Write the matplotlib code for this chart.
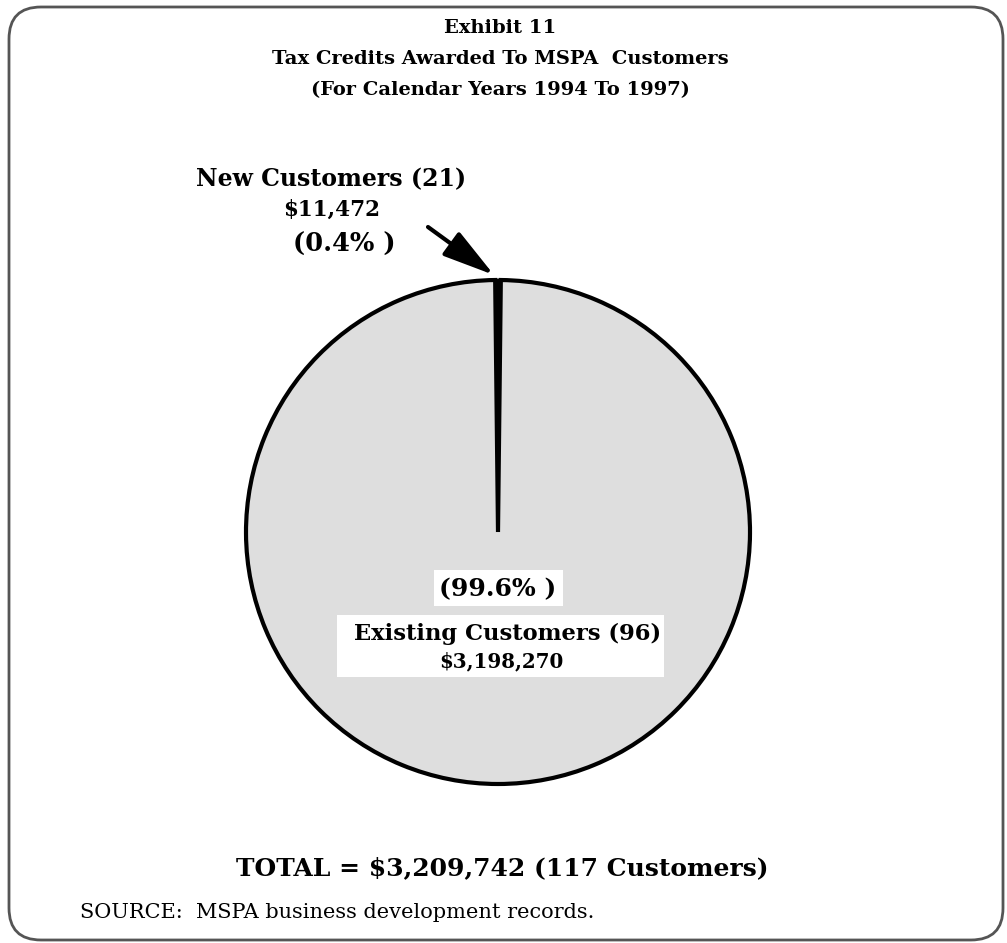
import matplotlib
matplotlib.use("Agg")
import matplotlib.pyplot as plt
from matplotlib.patches import FancyBboxPatch, Rectangle

# ---- data ----
categories = ["New Customers (21)", "Existing Customers (96)"]
amounts = [11472, 3198270]
amount_labels = ["$11,472", "$3,198,270"]
pct_labels = ["(0.4% )", "(99.6% )"]
title_lines = ["Exhibit 11", "Tax Credits Awarded To MSPA  Customers",
               "(For Calendar Years 1994 To 1997)"]
total_label = "TOTAL = $3,209,742 (117 Customers)"
source_label = "SOURCE:  MSPA business development records."

W, H = 1007, 943
fig = plt.figure(figsize=(W / 100, H / 100), dpi=100)
ax = fig.add_axes([0, 0, 1, 1])

def Y(py):
    return H - py

serif = ["DejaVu Serif"]

# pie
total = sum(amounts)
small_angle = amounts[0] / total * 360.0
cx, cy, r = 498, Y(532), 252
wedges, _ = ax.pie(amounts, colors=["black", "#dedede"], startangle=90 - small_angle / 2,
                   counterclock=True, center=(cx, cy), radius=r,
                   wedgeprops=dict(edgecolor="black", linewidth=3),
                   frame=True)
wedges[0].set_linewidth(2)
ax.set_xlim(0, W)
ax.set_ylim(0, H)
ax.set_aspect("equal")
ax.axis("off")

# frame
frame = FancyBboxPatch((9, Y(940)), 994, 933,
                       boxstyle="round,pad=0,rounding_size=32",
                       fc="none", ec="#555555", lw=2, zorder=0.5)
ax.add_patch(frame)

# titles
for i, t in enumerate(title_lines):
    ax.text(500, Y(28 + 31 * i), t, ha="center", va="center", family=serif,
            fontweight="bold", fontsize=14)

# new customers label
ax.text(331, Y(179), categories[0], ha="center", va="center", family=serif,
        fontweight="bold", fontsize=17)
ax.text(332, Y(210), amount_labels[0], ha="center", va="center", family=serif,
        fontweight="bold", fontsize=15.5)
ax.text(344, Y(244), pct_labels[0], ha="center", va="center", family=serif,
        fontweight="bold", fontsize=18.5)
ax.annotate("", xy=(494, Y(275)), xytext=(428, Y(227)),
            arrowprops=dict(arrowstyle="-|>,head_length=0.8,head_width=0.22",
                            color="black", lw=3,
                            mutation_scale=40, shrinkA=0, shrinkB=0))

# existing customers label
ax.add_patch(Rectangle((434, Y(606)), 129, 36, fc="white", ec="none", zorder=3))
ax.text(498, Y(589), pct_labels[1], ha="center", va="center", family=serif,
        fontweight="bold", fontsize=18, zorder=4)
ax.add_patch(Rectangle((337, Y(677)), 327, 62, fc="white", ec="none", zorder=3))
ax.text(508, Y(634), categories[1], ha="center", va="center", family=serif,
        fontweight="bold", fontsize=16.3, zorder=4)
ax.text(501, Y(661), amount_labels[1], ha="center", va="center", family=serif,
        fontweight="bold", fontsize=14.3, zorder=4)

# total and source
ax.text(502, Y(868), total_label, ha="center", va="center", family=serif,
        fontweight="bold", fontsize=18)
ax.text(80, Y(913), source_label, ha="left", va="center", family=serif,
        fontsize=15)

fig.savefig("out.png", dpi=100)
